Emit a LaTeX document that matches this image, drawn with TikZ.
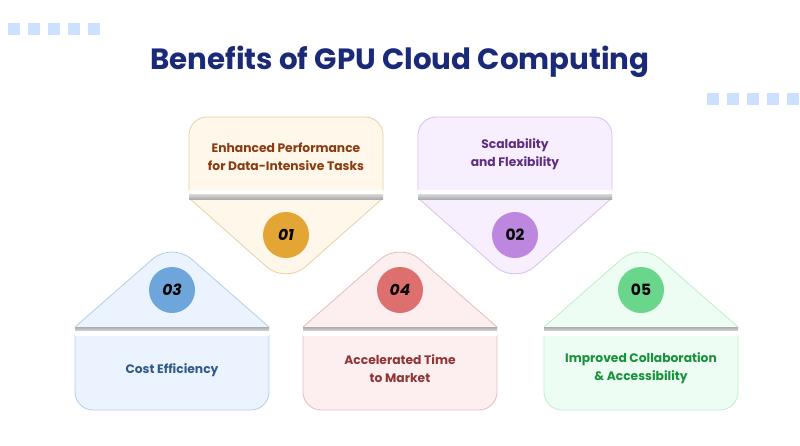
\documentclass[tikz,border=0pt]{standalone}
\usepackage{fontspec}
\setmainfont{Poppins}
\usepackage{tikz}
\usetikzlibrary{positioning}

\definecolor{titleblue}{HTML}{1B2A78}
\definecolor{squareblue}{HTML}{CCE0FF}
\definecolor{afill}{HTML}{FFF7E9}
\definecolor{aline}{HTML}{E9D0A6}
\definecolor{acirc}{HTML}{E3A534}
\definecolor{atext}{HTML}{8A3B12}
\definecolor{bfill}{HTML}{F7EFFD}
\definecolor{bline}{HTML}{D8BFEF}
\definecolor{bcirc}{HTML}{BD87DF}
\definecolor{btext}{HTML}{5E2D82}
\definecolor{cfill}{HTML}{EBF4FE}
\definecolor{cline}{HTML}{B3CDE9}
\definecolor{ccirc}{HTML}{6EA6DC}
\definecolor{ctext}{HTML}{305B88}
\definecolor{dfill}{HTML}{FDEFEF}
\definecolor{dline}{HTML}{E6BDBD}
\definecolor{dcirc}{HTML}{DE6F6F}
\definecolor{dtext}{HTML}{8E3535}
\definecolor{efill}{HTML}{EEFDF3}
\definecolor{eline}{HTML}{BDEFCB}
\definecolor{ecirc}{HTML}{69D68C}
\definecolor{etext}{HTML}{17923A}

\begin{document}
\begin{tikzpicture}[
        x=1pt, y=-1pt,
        card/.style={fill=#1fill, draw=#1line, line width=0.8pt},
        tip/.style={card=#1, rounded corners=26pt},
        box/.style={card=#1, rounded corners=18pt},
        num/.style={circle, fill=#1circ, minimum size=46pt, inner sep=0pt, font=\fontsize{15.5}{15.5}\selectfont\bfseries},
        txt/.style={text=#1text, align=center, font=\fontsize{12.3}{18}\selectfont\bfseries},
        sq/.style={fill=squareblue}
    ]
    \useasboundingbox[fill=white] (0,0) rectangle (800,445);

    \foreach \x in {8,28,...,88} \fill[sq] (\x,23) rectangle ++(12,12);
    \foreach \x in {707,727,...,787} \fill[sq] (\x,93) rectangle ++(12,12);

    \node[text=titleblue, font=\fontsize{29.3}{29.3}\selectfont\bfseries] (title) at (400,62) {Benefits of GPU Cloud Computing};

    \foreach \c/\x/\n/\t/\y in {a/189/{\itshape 01}/{Enhanced Performance\\for Data-Intensive Tasks}/157,
                              b/418/02/{Scalability\\and Flexibility}/154} {
        \path[box=\c] (\x,191) -- (\x,117) -- (\x+194,117) -- (\x+194,191);
        \path[tip=\c] (\x,198) -- (\x+97,284) -- (\x+194,198);
        \fill[white] (\x,190) rectangle (\x+194,194);
        \shade[top color=gray!30, bottom color=gray!65] (\x,194) rectangle (\x+194,199);
        \node[num=\c] (n\c) at (\x+97,235) {\n};
        \node[txt=\c] (t\c) at (\x+97,\y) {\t};
    }

    \foreach \c/\x/\n/\t/\y in {c/75/{\itshape 03}/{Cost Efficiency}/370,
                              d/303/{\itshape 04}/{Accelerated Time\\to Market}/369,
                              e/544/05/{Improved Collaboration\\\& Accessibility}/368} {
        \path[tip=\c] (\x,327) -- (\x+97,242) -- (\x+194,327);
        \path[box=\c] (\x,335) -- (\x,410) -- (\x+194,410) -- (\x+194,335);
        \shade[top color=gray!65, bottom color=gray!30] (\x,327) rectangle (\x+194,331);
        \fill[white] (\x,331) rectangle (\x+194,336);
        \node[num=\c] (n\c) at (\x+97,290) {\n};
        \node[txt=\c] (t\c) at (\x+97,\y) {\t};
    }
\end{tikzpicture}
\end{document}
